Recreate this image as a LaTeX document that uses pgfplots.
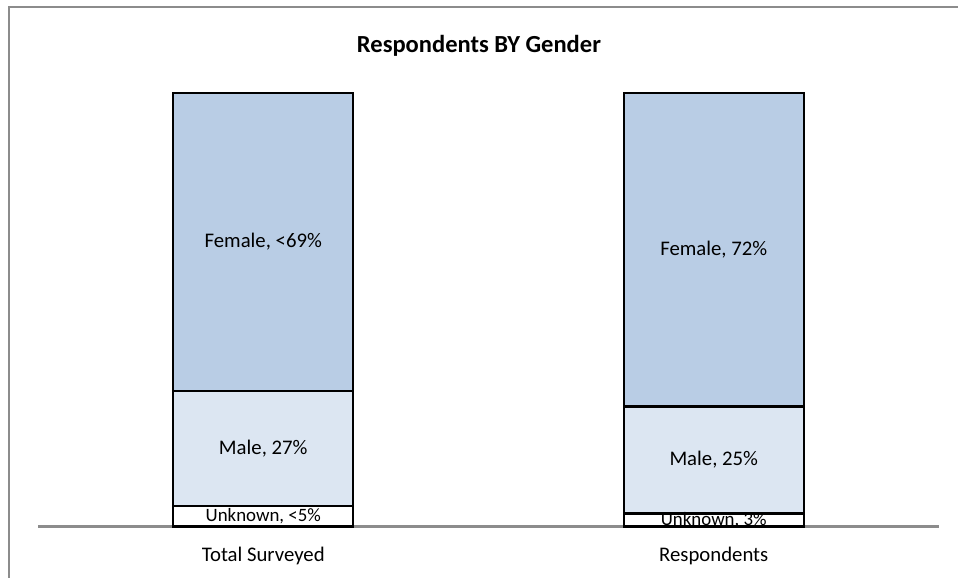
\documentclass[border=0pt]{standalone}
\usepackage{fontspec}
\setmainfont{Carlito}
\usepackage{pgfplots}
\pgfplotsset{compat=1.18}

\definecolor{femalec}{HTML}{B9CDE5}
\definecolor{malec}{HTML}{DCE6F2}
\definecolor{framec}{HTML}{8C8C8C}

\pgfplotsset{chartbox/.style={
    at={(0,0)}, anchor=south west,
    scale only axis,
    width=477.53pt, height=229.6pt,
    xmin=-0.5, xmax=1.5,
    ymin=0, ymax=100,
    clip=false,
}}

\begin{document}
\begin{tikzpicture}
\useasboundingbox (-20.14pt,-26.77pt) rectangle (487.6pt,279.05pt);
% chart frame (cut off at right and bottom as in the original)
\draw[framec, line width=1pt] (-15.37pt,-60pt) -- (-15.37pt,275.3pt) -- (520pt,275.3pt);

% stacked bars
\begin{axis}[
    chartbox,
    ybar stacked,
    bar width=0.4,
    xtick=data,
    xticklabels={Total Surveyed, Respondents},
    xticklabel style={anchor=base, yshift=-18.6pt, font=\fontsize{11}{13}\selectfont},
    major tick length=0pt,
    axis x line=bottom,
    axis y line=none,
    x axis line style={-, draw=framec, line width=1.1pt},
]
\addplot[fill=white, draw=black, line width=1.1pt]
    coordinates {(0,4.7) (1,3.0)};
\addplot[fill=malec, draw=black, line width=1.1pt]
    coordinates {(0,26.6) (1,24.7)};
\addplot[fill=femalec, draw=black, line width=1.1pt]
    coordinates {(0,68.7) (1,72.3)};
\end{axis}

% data labels, centred in each segment
\begin{axis}[
    chartbox,
    hide axis,
    point meta=explicit symbolic,
    nodes near coords,
    every node near coord/.append style={anchor=center, text=black,
        font=\fontsize{11}{13}\selectfont},
]
\addplot[draw=none, mark=none,
    every node near coord/.append style={font=\fontsize{10}{12}\selectfont}]
    coordinates {(0,2.35) [{Unknown, <5\%}] (1,1.5) [{Unknown, 3\%}]};
\addplot[draw=none, mark=none]
    coordinates {(0,18.0) [{Male, 27\%}] (1,15.35) [{Male, 25\%}]};
\addplot[draw=none, mark=none]
    coordinates {(0,65.65) [{Female, <69\%}] (1,63.85) [{Female, 72\%}]};
\end{axis}

\node[anchor=base, font=\fontsize{13}{15}\selectfont\bfseries] at (233.7pt,251.3pt) {Respondents BY Gender};
\end{tikzpicture}
\end{document}
